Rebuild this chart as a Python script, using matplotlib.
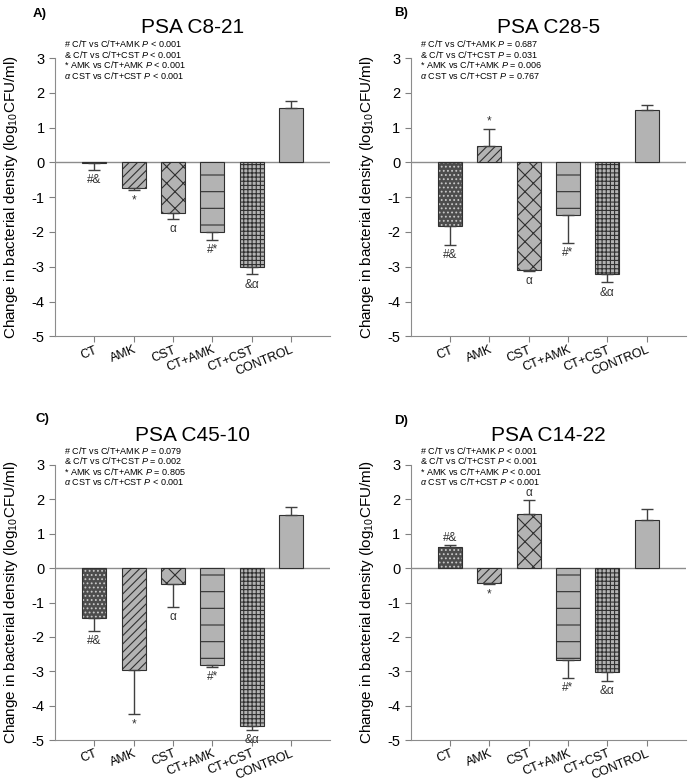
#!/usr/bin/env python
# four bar panels: change in bacterial density per treatment, PSA isolates

import numpy as np
import matplotlib.pyplot as plt

plt.rcParams['font.family'] = ['Liberation Sans', 'DejaVu Sans']
plt.rcParams['axes.unicode_minus'] = False
plt.rcParams['mathtext.fontset'] = 'custom'
plt.rcParams['mathtext.it'] = 'Liberation Sans:italic'
plt.rcParams['mathtext.rm'] = 'Liberation Sans'
plt.rcParams['hatch.linewidth'] = 0.8

labels = ['CT', 'AMK', 'CST', 'CT+AMK', 'CT+CST', 'CONTROL']

# mean change and one-sided error (log10 CFU/ml)
a_vals = [-0.02, -0.75, -1.45, -2.00, -3.02, 1.55]
a_err = [0.20, 0.05, 0.17, 0.22, 0.20, 0.22]
b_vals = [-1.82, 0.47, -3.10, -1.52, -3.22, 1.52]
b_err = [0.56, 0.50, 0.03, 0.80, 0.23, 0.13]
c_vals = [-1.45, -2.97, -0.47, -2.82, -4.60, 1.53]
c_err = [0.38, 1.28, 0.66, 0.06, 0.10, 0.25]
d_vals = [0.62, -0.43, 1.57, -2.68, -3.02, 1.40]
d_err = [0.05, 0.03, 0.41, 0.52, 0.26, 0.32]

# significance marks above/below each bar
a_marks = ['#&', '*', '\u03b1', '#*', '&\u03b1', '']
b_marks = ['#&', '*', '\u03b1', '#*', '&\u03b1', '']
c_marks = ['#&', '*', '\u03b1', '#*', '&\u03b1', '']
d_marks = ['#&', '*', '\u03b1', '#*', '&\u03b1', '']

titles = ['PSA C8-21', 'PSA C28-5', 'PSA C45-10', 'PSA C14-22']
panel_tags = ['A)', 'B)', 'C)', 'D)']

a_p = ['< 0.001', '< 0.001', '< 0.001', '< 0.001']
b_p = ['= 0.687', '= 0.031', '= 0.006', '= 0.767']
c_p = ['= 0.079', '= 0.002', '= 0.805', '< 0.001']
d_p = ['< 0.001', '< 0.001', '< 0.001', '< 0.001']

comparisons = ['# C/T vs C/T+AMK', '& C/T vs C/T+CST',
               '* AMK vs C/T+AMK', '$\\alpha$ CST vs C/T+CST']

hatches = ['....', '////', 'xx', '-', '++++', '']
face = '#b3b3b3'

fig = plt.figure(figsize=(6.88, 7.84), dpi=100)

# axes boxes [left, bottom, width, height]
boxes = [[0.080, 0.571, 0.400, 0.355],
         [0.597, 0.571, 0.400, 0.355],
         [0.080, 0.056, 0.400, 0.351],
         [0.597, 0.056, 0.400, 0.351]]
tag_pos = [(0.058, 0.990), (0.583, 0.991), (0.062, 0.473), (0.583, 0.471)]

panels = [(a_vals, a_err, a_marks, a_p), (b_vals, b_err, b_marks, b_p),
          (c_vals, c_err, c_marks, c_p), (d_vals, d_err, d_marks, d_p)]

x = np.arange(len(labels))

for i, (vals, err, marks, pv) in enumerate(panels):
    ax = fig.add_axes(boxes[i])
    vals = np.array(vals)
    err = np.array(err)

    # bars
    for j in range(len(labels)):
        if j == 0:
            ax.bar(x[j], vals[j], 0.61, color='#4d4d4d', linewidth=0, zorder=2)
            ax.bar(x[j], vals[j], 0.61, color='none', edgecolor='#c8c8c8',
                   hatch=hatches[j], linewidth=0, zorder=2)
            ax.bar(x[j], vals[j], 0.61, color='none', edgecolor='#303030',
                   linewidth=0.8, zorder=3)
        else:
            ax.bar(x[j], vals[j], 0.61, color=face, edgecolor='#303030',
                   hatch=hatches[j], linewidth=0.8, zorder=2)

    # one-sided error bars (away from zero)
    lower = np.where(vals < 0, err, 0)
    upper = np.where(vals >= 0, err, 0)
    ax.errorbar(x, vals, yerr=[lower, upper], fmt='none', ecolor='#404040',
                elinewidth=1, capsize=4.5, capthick=1, zorder=4)

    # significance marks
    for j in range(len(labels)):
        if not marks[j]:
            continue
        if vals[j] < 0:
            ax.text(x[j], vals[j] - err[j] - 0.12, marks[j], ha='center',
                    va='top', fontsize=8.5, color='#333333', zorder=5)
        else:
            ax.text(x[j], vals[j] + err[j] + 0.04, marks[j], ha='center',
                    va='bottom', fontsize=8.5, color='#333333', zorder=5)

    ax.axhline(0, color='#8c8c8c', linewidth=1, zorder=1)

    ax.set_xlim(-1, 6)
    ax.set_ylim(-5, 3)
    ax.set_yticks(range(-5, 4))
    ax.set_xticks(x)
    ax.set_xticklabels(labels, rotation=22, ha='right', rotation_mode='anchor',
                       fontsize=9)
    ax.tick_params(axis='y', labelsize=10.5)
    ax.tick_params(axis='x', pad=1.5)
    ax.tick_params(axis='both', colors='#808080', labelcolor='black',
                   length=4, direction='out')
    for s in ['top', 'right']:
        ax.spines[s].set_visible(False)
    for s in ['left', 'bottom']:
        ax.spines[s].set_color('#8c8c8c')

    ax.set_ylabel('Change in bacterial density (log$_{10}$CFU/ml)', fontsize=11)
    ax.yaxis.set_label_coords(-0.127, 0.5)

    # stats block, one line at a time
    for k, (c, p) in enumerate(zip(comparisons, pv)):
        ax.text(-0.77, 3.42 - k * 0.305, c + ' $P$ ' + p, ha='left',
                va='center', fontsize=6.5, clip_on=False)

    ax.text(0.5, 1.108, titles[i], transform=ax.transAxes, ha='center',
            va='center', fontsize=15)
    fig.text(tag_pos[i][0], tag_pos[i][1], panel_tags[i], ha='center',
             va='top', fontsize=9.5, fontweight='bold')

plt.savefig('out.png', dpi=100)
